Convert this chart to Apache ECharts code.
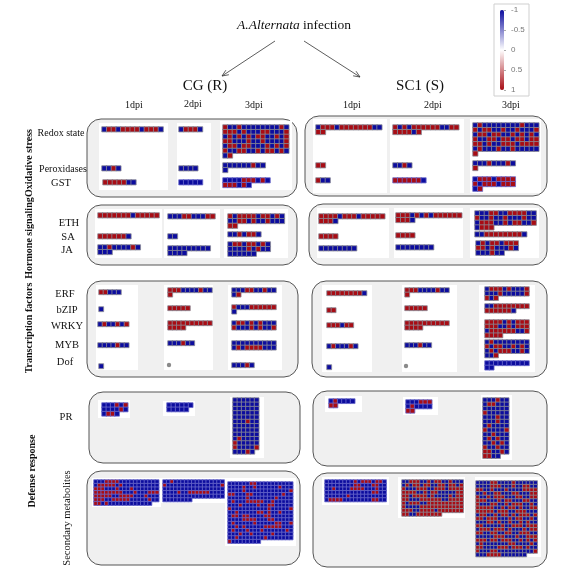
<!DOCTYPE html>
<html>
<head>
<meta charset="utf-8">
<script src="https://cdn.jsdelivr.net/npm/echarts@6.0.0/dist/echarts.min.js"></script>
<style>
  html, body { margin: 0; padding: 0; background: #fff; }
  #main { width: 567px; height: 571px; }
</style>
</head>
<body>
<div id="main"></div>
<script>
// r = up (1), b = down (-1); one string per row of cells
// Oxidative stress - CG (R)
var redoxCG1 = ['brrbrrrrbrrrb'];
var redoxCG2 = ['brrrb'];
var redoxCG3 = ['rbbrbbbbbbbbrb', 'rrrbrbbbrrbbbr', 'brbrbrbrrbbrbr', 'rrbbbrbbrbbbbr', 'brrbrrbbbrbrbr', 'rbbrrbbrbrrbrb', 'br'];
var peroxCG1 = ['bbrb'];
var peroxCG2 = ['bbbb'];
var peroxCG3 = ['bbbbbbrbb', 'b'];
var gstCG1 = ['rrrrrbb'];
var gstCG2 = ['bbbbb'];
var gstCG3 = ['bbbbrrrbrb', 'rrrbrb'];
// Oxidative stress - SC1 (S)
var redoxSC1 = ['brrrbrrrrrrrbb', 'rr'];
var redoxSC2 = ['rbrbrrrrrrbbrr', 'rrrrbr'];
var redoxSC3 = ['brbbbbbbbbrbbb', 'rbrrbbrbbrbbbr', 'brrbrrbbrbrbrb', 'rbbrrbrrbrrbrr', 'rrbrbbrrrbrrrr', 'brbbbrbbrbbbbb', 'r'];
var peroxSC1 = ['rr'];
var peroxSC2 = ['bbrb'];
var peroxSC3 = ['bbbrbbbrb', 'r'];
var gstSC1 = ['rbb'];
var gstSC2 = ['rrrrrrb'];
var gstSC3 = ['brrrbrrrr', 'rbrrrbrrr', 'br'];
// Hormone signaling - CG (R)
var ethCG1 = ['rrrrrrrbrrrrr'];
var ethCG2 = ['bbbrrbbbrr'];
var ethCG3 = ['rbrrrrbrrbrb', 'bbrrbrbbrbbb', 'rr'];
var saCG1 = ['rrrrrrb'];
var saCG2 = ['bb'];
var saCG3 = ['bbrbrrb'];
var jaCG1 = ['bbrbbbbrb', 'bbb'];
var jaCG2 = ['bbbbbbbbb', 'bbbb'];
var jaCG3 = ['brrbrrbrb', 'bbbbrbrbb', 'bbbbbb'];
// Hormone signaling - SC1 (S)
var ethSC1 = ['rrrrbrrrbrrrrr', 'rrrb'];
var ethSC2 = ['rrrbrbrbrrrrrr', 'rrrb'];
var ethSC3 = ['bbbrrbbrrrrbb', 'rbbrbbrbbbrbb', 'brrrbbrbrrbbr', 'brrr'];
var saSC1 = ['rrrr'];
var saSC2 = ['rrrr'];
var saSC3 = ['bbrrrrrrrrb'];
var jaSC1 = ['bbbbbbbb'];
var jaSC2 = ['bbbbbbbb'];
var jaSC3 = ['brbrrbrrr', 'rrbrbbbrb', 'bbbrbb'];
// Transcription factors - CG (R)
var erfCG1 = ['rrbbb'];
var erfCG2 = ['rrrbbbbrbb', 'r'];
var erfCG3 = ['bbbrrbbrbb', 'br'];
var bzipCG1 = ['b'];
var bzipCG2 = ['rrrrr'];
var bzipCG3 = ['rbbbrrrrrr', 'b'];
var wrkyCG1 = ['brbbrbr'];
var wrkyCG2 = ['rrrrrrrrrr', 'rrrr'];
var wrkyCG3 = ['brrbrbrbbb', 'rbbbrbrbbr'];
var mybCG1 = ['bbbbrbb'];
var mybCG2 = ['bbbrbb'];
var mybCG3 = ['bbbbbbbbbb', 'brbrrrrbbb'];
var dofCG1 = ['b'];
var dofCG3 = ['bbbrb'];
// Transcription factors - SC1 (S)
var erfSC1 = ['rrrrrrrrb'];
var erfSC2 = ['rrrbbbbrbb', 'r'];
var erfSC3 = ['brrrbrbbbr', 'bbbrbbbbbr', 'rbr'];
var bzipSC1 = ['rr'];
var bzipSC2 = ['rrrrr'];
var bzipSC3 = ['bbrrrrrrrr', 'rrrrrrb'];
var wrkySC1 = ['rrrbrr'];
var wrkySC2 = ['rrrrrrrrrr', 'rrrr'];
var wrkySC3 = ['rrrrbrbrrr', 'rrrbbrbrrr', 'brrrrrrbbr', 'rrrr'];
var mybSC1 = ['brbbbrb'];
var mybSC2 = ['bbbrbb'];
var mybSC3 = ['brbbbbbbbb', 'rbrrbbrbrb', 'brbrrrbbrb', 'bbr'];
var dofSC1 = ['b'];
var dofSC3 = ['bbbbbbbbbb', 'bb'];
// Defense response - PR
var prCG1 = ['bbbrbr', 'bbbbrb', 'brrb'];
var prCG2 = ['bbbbbb', 'bbbbb'];
var prCG3 = ['bbbbbb', 'bbbbbb', 'bbbbbb', 'bbbbbb', 'bbbbbb', 'bbbrbb', 'bbbbbb',
             'bbbbbb', 'bbbbbb', 'brbbbb', 'rbbbbb', 'rbbbbr', 'bbbrb'];
var prSC1 = ['brbbbb', 'rr'];
var prSC2 = ['bbbrrr', 'brbbbb', 'rr'];
var prSC3 = ['bbbrbb', 'brrbbb', 'bbbbbb', 'rbbbbb', 'bbbrbb', 'bbbrbb', 'brbbbb',
             'rbbbbr', 'bbrbbb', 'brbrbb', 'bbrbrb', 'rbbrbb', 'rrbbrb', 'rrbb'];
// Defense response - secondary metabolites
var smCG1 = ['bbbrrrrbbbbbbbbbbb', 'brrrrrbrbbbbbbbbbb', 'rrrbbbrbbbrbbbbbbb', 'rrrrrrrrbbbrbbbrrr',
             'rrrrrbbrrrrbbbrbbb', 'rrrbbrrrrrbbbbbrbb', 'rrbrbbbbbbbbbbbb'];
var smCG2 = ['bbrbbbbbbbbbbbbbb', 'rbbbbbbbbbbbbbbbr', 'bbbbbbbbbbbbbbbbb', 'bbbbrbbrrrrrrbbbb',
             'bbbbbbbbbbbbbbbbb', 'bbbbbbbb'];
var smCG3 = ['bbbbbbrrbbbbbbbbbb', 'bbbbrbbrbbbbbbrbbb', 'bbbbrbbbbbbbbbbbbr', 'rrbbbrrbbbbbbbbrbb',
             'bbbbbrbbbbbbbrbbbb', 'brbbbrrrrrbbrbbbbb', 'bbbrbbbbrbbrrbbbbb', 'rbbbbbbbbbbrbbbbbr',
             'bbrbbbbbrrbrbbrbbb', 'brrbrrbbbbrrbbbbbb', 'bbbbrrrrbbbrrbbbbb', 'brbbbbbrbbbbbrrbbr',
             'bbrbrbbbbbrrrrrbbb', 'brbbbrbbbrbbbbbbrb', 'bbbrbbrbbbbbrbbbbb', 'bbrbbbbbbbrbbbbbbb',
             'rbbbbbbbb'];
var smSC1 = ['bbbbbbbbrbrrrbrrb', 'bbbbbbbbrrbbbrrbb', 'bbrbbbbrrrrbbbrbb', 'bbbbbbbbbbbbbrrbb',
             'bbbbbbrbbbbbbbbbb', 'brrrrbbbbbbbbrrbb'];
var smSC2 = ['bbrrrbbrbrrbbrbbb', 'brbrrbrrbbrrbrrbr', 'rbbbrrrbbrrrbrrrr', 'rrrrbbrbrrbbbbbrr',
             'rrbrrrrbrbbbbrbrr', 'rrbbbrrrrrrbbrrrr', 'rbrrrbbrrrrrrrrrr', 'rbbbbrrrrrrrrrrrr',
             'rrrbbrrrrbrrrrrrr', 'rrbbrrrrrrr'];
var smSC3 = ['bbbbrrbbbbrbbbbbb', 'bbbbrrrbbbrbbrrbb', 'rrbbrbbbrbbbbrrrr', 'bbrbbrrbbbrrbbbrr',
             'rbbrbrrrbbbrrbbrr', 'rrrbbbrbrrbbbrrbb', 'rbbbrrbbrbrrrbbrb', 'rrrrrbbrbrrbrbbrr',
             'rrrrrbrrrbbrrrbbb', 'brrbbrbrrbrbrrrbr', 'rrbrrrbbbrbrrbbrb', 'bbbrrbrbbrbbrbrbb',
             'rrbbbbbrbbrrrbrrr', 'brrrbrrrbrbbbrbrr', 'rrbbrrbbrrbbrrrbb', 'bbbbbrrrbbbrbbrrr',
             'rrrbrrbrrrbbrbrbr', 'brbbbbbbbrrbbbbrb', 'rrbbbbrrrbrrrbrbb', 'rbbbrrbbbbbbbbbbr',
             'bbbrrrrbbbbbbb'];

var legendMin = -1, legendMax = 1, legendStep = 0.5;

// block layout: [cells, left, top, cell size, grid line colour]
var SQ = 4.7, TQ = 4.4, PQ = 4.3, MQ = 3.6;
var G = '#8a8a96', V = '#6a6acc';
var blocks = [
  [redoxCG1, 102, 127, SQ, G], [redoxCG2, 179, 127, SQ, G], [redoxCG3, 223, 125, SQ, G],
  [peroxCG1, 102, 166, SQ, G], [peroxCG2, 179, 166, SQ, G], [peroxCG3, 223, 163, SQ, G],
  [gstCG1, 103, 180, SQ, G], [gstCG2, 179, 180, SQ, V], [gstCG3, 223, 178, SQ, V],
  [redoxSC1, 316, 125, SQ, G], [redoxSC2, 393, 125, SQ, G], [redoxSC3, 473, 123, SQ, G],
  [peroxSC1, 316, 163, SQ, G], [peroxSC2, 393, 163, SQ, G], [peroxSC3, 473, 161, SQ, G],
  [gstSC1, 316, 178, SQ, G], [gstSC2, 393, 178, SQ, V], [gstSC3, 473, 177, SQ, V],

  [ethCG1, 98, 213, SQ, G], [ethCG2, 168, 214, SQ, G], [ethCG3, 228, 214, SQ, G],
  [saCG1, 98, 234, SQ, G], [saCG2, 168, 234, SQ, G], [saCG3, 228, 232, SQ, G],
  [jaCG1, 98, 245, SQ, G], [jaCG2, 168, 246, SQ, G], [jaCG3, 228, 242, SQ, G],
  [ethSC1, 319, 214, SQ, G], [ethSC2, 396, 213, SQ, G], [ethSC3, 475, 211, SQ, G],
  [saSC1, 319, 234, SQ, G], [saSC2, 396, 233, SQ, G], [saSC3, 475, 232, SQ, G],
  [jaSC1, 319, 246, SQ, G], [jaSC2, 396, 245, SQ, G], [jaSC3, 476, 241, SQ, G],

  [erfCG1, 99, 290, TQ, G], [erfCG2, 168, 288, TQ, G], [erfCG3, 232, 288, TQ, G],
  [bzipCG1, 99, 307, TQ, G], [bzipCG2, 168, 306, TQ, G], [bzipCG3, 232, 305, TQ, G],
  [wrkyCG1, 98, 322, TQ, G], [wrkyCG2, 168, 321, TQ, G], [wrkyCG3, 232, 321, TQ, G],
  [mybCG1, 98, 343, TQ, G], [mybCG2, 168, 341, TQ, G], [mybCG3, 232, 341, TQ, G],
  [dofCG1, 99, 364, TQ, G], [dofCG3, 232, 363, TQ, G],
  [erfSC1, 327, 291, TQ, G], [erfSC2, 405, 288, TQ, G], [erfSC3, 485, 287, TQ, G],
  [bzipSC1, 327, 308, TQ, G], [bzipSC2, 405, 306, TQ, G], [bzipSC3, 485, 304, TQ, G],
  [wrkySC1, 327, 323, TQ, G], [wrkySC2, 405, 321, TQ, G], [wrkySC3, 485, 320, TQ, G],
  [mybSC1, 327, 344, TQ, G], [mybSC2, 405, 343, TQ, G], [mybSC3, 485, 340, TQ, G],
  [dofSC1, 327, 365, TQ, G], [dofSC3, 485, 361, TQ, V],

  [prCG1, 102, 403, PQ, V], [prCG2, 167, 403, PQ, V], [prCG3, 233, 398, PQ, G],
  [prSC1, 329, 399, PQ, V], [prSC2, 406, 400, PQ, V], [prSC3, 483, 398, PQ, G],

  [smCG1, 94, 480, MQ, V], [smCG2, 163, 480, MQ, V], [smCG3, 228, 482, MQ, V],
  [smSC1, 325, 480, MQ, V], [smSC2, 402, 480, MQ, G], [smSC3, 476, 481, MQ, G]
];

// rounded panels [x1, y1, x2, y2] and white column backgrounds
var panels = [
  [87, 119, 297, 197], [305, 116, 547, 196],
  [87, 205, 297, 265], [309, 204, 547, 265],
  [87, 281, 298, 377], [312, 281, 547, 377],
  [89, 392, 300, 463], [313, 391, 547, 466],
  [87, 471, 300, 565], [313, 473, 547, 567]
];
var columns = [
  [99, 123, 168, 190], [177, 123, 211, 190], [220, 121, 292, 190],
  [313, 119, 387, 193], [390, 119, 464, 193], [470, 119, 541, 193],
  [95, 209, 162, 258], [164, 209, 220, 258], [224, 209, 288, 258],
  [317, 208, 389, 258], [394, 208, 463, 258], [470, 208, 539, 258],
  [96, 285, 138, 370], [164, 285, 213, 370], [228, 285, 282, 370],
  [322, 285, 372, 372], [402, 285, 457, 372], [479, 285, 535, 372],
  [98, 400, 130, 418], [163, 401, 195, 416], [230, 397, 264, 458],
  [325, 396, 362, 412], [403, 397, 438, 415], [481, 395, 512, 460],
  [92, 478, 161, 507], [161, 478, 225, 503], [225, 478, 296, 546],
  [322, 477, 389, 505], [398, 477, 465, 518], [475, 477, 541, 557]
];

var SERIF = '"Liberation Serif", "Times New Roman", serif';
// [text, x, y, font size, bold, vertical]
var labels = [
  ['CG (R)', 205, 86, 15, false, false], ['SC1 (S)', 420, 86, 15, false, false],
  ['1dpi', 134, 105, 10, false, false], ['2dpi', 193, 104, 10, false, false], ['3dpi', 254, 105, 10, false, false],
  ['1dpi', 352, 105, 10, false, false], ['2dpi', 433, 105, 10, false, false], ['3dpi', 511, 105, 10, false, false],
  ['Redox state', 61, 133, 10, false, false], ['Peroxidases', 63, 169, 10, false, false], ['GST', 61, 183, 10.5, false, false],
  ['ETH', 69, 223, 10.5, false, false], ['SA', 68, 237, 10.5, false, false], ['JA', 67, 250, 10.5, false, false],
  ['ERF', 65, 294, 10.5, false, false], ['bZIP', 67, 310, 10.5, false, false], ['WRKY', 67, 326, 10.5, false, false],
  ['MYB', 67, 345, 10.5, false, false], ['Dof', 65, 362, 10.5, false, false], ['PR', 66, 417, 10.5, false, false],
  ['Secondary metabolites', 67, 518, 10.5, false, true],
  ['Oxidative stress', 29, 163, 10, true, true], ['Hormone signaling', 29, 238, 10, true, true],
  ['Transcription factors', 29, 328, 10, true, true], ['Defense response', 32, 471, 10, true, true]
];

var grids = [], xAxes = [], yAxes = [], series = [];
blocks.forEach(function (b, i) {
  var rows = b[0], s = b[3];
  var cols = 0;
  rows.forEach(function (r) { cols = Math.max(cols, r.length); });
  var xs = [], ys = [], data = [];
  for (var c = 0; c < cols; c++) xs.push(c);
  rows.forEach(function (row, r) {
    ys.push(r);
    for (var c = 0; c < row.length; c++) {
      data.push([c, r, row.charAt(c) === 'r' ? 1 : -1]);
    }
  });
  grids.push({ left: b[1], top: b[2], width: cols * s, height: rows.length * s });
  xAxes.push({ type: 'category', gridIndex: i, data: xs, show: false });
  yAxes.push({ type: 'category', gridIndex: i, data: ys, inverse: true, show: false });
  series.push({
    type: 'heatmap', xAxisIndex: i, yAxisIndex: i, data: data, silent: true,
    itemStyle: { borderColor: b[4], borderWidth: 0.8 }
  });
});

// grid carrying the colour bar tick labels
var lg = grids.length;
grids.push({ left: 504, top: 10, width: 1, height: 80 });
xAxes.push({ type: 'value', gridIndex: lg, show: false, min: 0, max: 1 });
yAxes.push({
  type: 'value', gridIndex: lg, min: legendMin, max: legendMax, interval: legendStep,
  inverse: true, position: 'right',
  axisLine: { show: false }, splitLine: { show: false },
  axisTick: { show: true, length: 2, lineStyle: { color: '#aaa' } },
  axisLabel: { fontSize: 8, color: '#777', margin: 6, fontFamily: 'Liberation Sans' }
});

var graphics = [];
panels.forEach(function (p) {
  graphics.push({ type: 'rect', z: 0,
    shape: { x: p[0], y: p[1], width: p[2] - p[0], height: p[3] - p[1], r: 14 },
    style: { fill: '#f0f0f0', stroke: '#555', lineWidth: 1 } });
});
columns.forEach(function (p) {
  graphics.push({ type: 'rect', z: 1,
    shape: { x: p[0], y: p[1], width: p[2] - p[0], height: p[3] - p[1] },
    style: { fill: '#ffffff' } });
});
// no-gene markers for Dof at 2dpi
[[169, 365], [406, 366]].forEach(function (d) {
  graphics.push({ type: 'circle', z: 1, shape: { cx: d[0], cy: d[1], r: 2.2 }, style: { fill: '#8a8a8a' } });
});
// colour bar frame
graphics.push({ type: 'rect', z: 0, shape: { x: 494, y: 4, width: 35, height: 92 },
  style: { fill: '#fff', stroke: '#cfcfcf', lineWidth: 1 } });

labels.forEach(function (l) {
  graphics.push({ type: 'text', z: 5, x: l[1], y: l[2], rotation: l[5] ? Math.PI / 2 : 0,
    style: { text: l[0], fill: '#111', align: 'center', verticalAlign: 'middle',
      font: (l[4] ? 'bold ' : '') + l[3] + 'px ' + SERIF } });
});
graphics.push({ type: 'text', z: 5, x: 294, y: 25,
  style: { text: '{i|A.Alternata} {n|infection}', align: 'center', verticalAlign: 'middle',
    rich: { i: { fontStyle: 'italic', fontSize: 13.5, fontFamily: SERIF, fill: '#111' },
            n: { fontSize: 13.5, fontFamily: SERIF, fill: '#111' } } } });

function arrow(x1, y1, x2, y2) {
  var a = Math.atan2(y2 - y1, x2 - x1), L = 7, w = 0.4;
  graphics.push({ type: 'line', z: 5, shape: { x1: x1, y1: y1, x2: x2, y2: y2 },
    style: { stroke: '#333', lineWidth: 0.8 } });
  graphics.push({ type: 'polyline', z: 5,
    shape: { points: [[x2 - L * Math.cos(a - w), y2 - L * Math.sin(a - w)], [x2, y2],
                      [x2 - L * Math.cos(a + w), y2 - L * Math.sin(a + w)]] },
    style: { stroke: '#333', lineWidth: 0.8, fill: null } });
}
arrow(275, 41, 222, 76);
arrow(304, 41, 360, 77);

var myChart = echarts.init(document.getElementById('main'));
var option = {
  animation: false,
  backgroundColor: '#fff',
  grid: grids,
  xAxis: xAxes,
  yAxis: yAxes,
  visualMap: {
    type: 'continuous', min: legendMin, max: legendMax, inverse: true,
    calculable: false, hoverLink: false, padding: 0,
    left: 500, top: 10, itemWidth: 4, itemHeight: 80,
    text: null, showLabel: false,
    seriesIndex: series.map(function (s, i) { return i; }),
    inRange: { color: ['#0c0c9e', '#ffffff', '#a80c14'] }
  },
  graphic: { elements: graphics },
  series: series
};
myChart.setOption(option);
</script>
</body>
</html>
